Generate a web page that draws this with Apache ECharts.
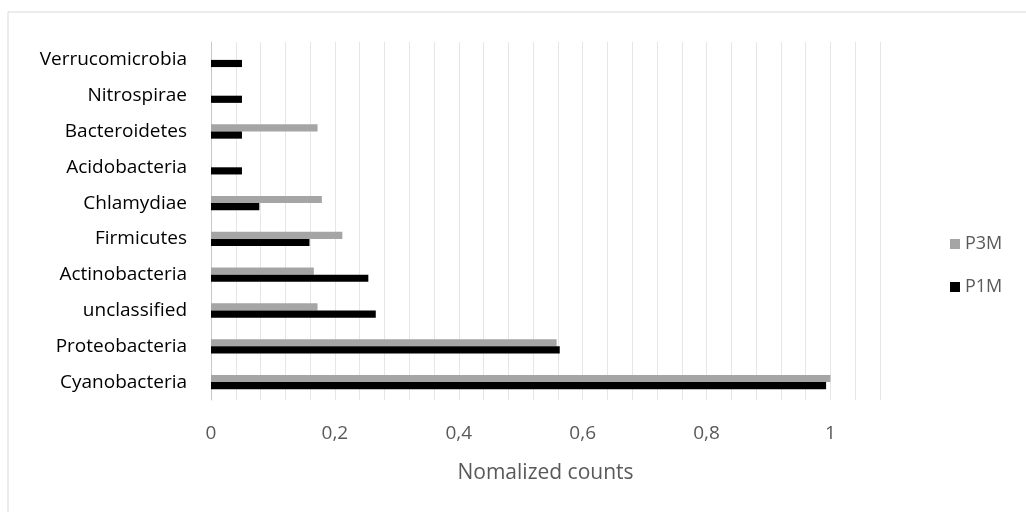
<!DOCTYPE html>
<html>
<head>
<meta charset="utf-8">
<script src="https://cdn.jsdelivr.net/npm/echarts@6/dist/echarts.min.js"></script>
<style>
  html, body { margin: 0; padding: 0; background: #fff; }
  #chart { width: 1026px; height: 512px; }
</style>
</head>
<body>
<div id="chart"></div>
<script>
// Phyla, listed bottom to top along the category axis
const categories = ['Cyanobacteria', 'Proteobacteria', 'unclassified', 'Actinobacteria', 'Firmicutes',
  'Chlamydiae', 'Acidobacteria', 'Bacteroidetes', 'Nitrospirae', 'Verrucomicrobia'];
const seriesNames = ['P3M', 'P1M'];
const p3m = [1.0, 0.558, 0.172, 0.166, 0.212, 0.179, 0, 0.172, 0, 0];
const p1m = [0.993, 0.563, 0.266, 0.254, 0.159, 0.078, 0.05, 0.05, 0.05, 0.05];
const axisMax = 1.08;
const gridStep = 0.04;
const labelStep = 5; // one label every fifth grid line (0,2)

const FONT = 'Open Sans';
const chart = echarts.init(document.getElementById('chart'), null, { renderer: 'canvas' });

chart.setOption({
  backgroundColor: '#ffffff',
  animation: false,
  graphic: [{
    type: 'rect',
    shape: { x: 8, y: 12, width: 1030, height: 520 },
    style: { fill: 'none', stroke: '#d9d9d9', lineWidth: 1 },
    silent: true
  }],
  grid: { left: 211, right: 146, top: 42, bottom: 112, containLabel: false },
  legend: {
    orient: 'vertical',
    left: 945,
    top: 230,
    itemGap: 25,
    icon: 'rect',
    itemWidth: 10,
    itemHeight: 10,
    data: seriesNames,
    textStyle: { fontFamily: FONT, fontSize: 18, color: '#595959' }
  },
  xAxis: {
    type: 'value',
    min: 0,
    max: axisMax,
    interval: gridStep,
    name: 'Nomalized counts',
    nameLocation: 'middle',
    nameGap: 63,
    nameTextStyle: { fontFamily: FONT, fontSize: 21, color: '#595959' },
    axisLine: { show: false },
    axisTick: { show: false },
    splitLine: { show: true, lineStyle: { color: '#e6e6e6', width: 1 } },
    axisLabel: {
      margin: 24,
      fontFamily: FONT,
      fontSize: 19,
      color: '#595959',
      showMaxLabel: false,
      formatter: function (v) {
        const k = Math.round(v / gridStep);
        if (k % labelStep !== 0) return '';
        const r = Math.round(v * 10) / 10;
        return (Number.isInteger(r) ? String(r) : r.toFixed(1)).replace('.', ',');
      }
    }
  },
  yAxis: {
    type: 'category',
    data: categories,
    axisLine: { show: true, lineStyle: { color: '#c8c8c8', width: 1 } },
    axisTick: { show: false },
    axisLabel: { margin: 24, fontFamily: FONT, fontSize: 19, color: '#000000' }
  },
  series: [
    {
      name: seriesNames[0],
      type: 'bar',
      data: p3m,
      itemStyle: { color: '#a5a5a5' },
      barGap: '0%',
      barCategoryGap: '60%'
    },
    {
      name: seriesNames[1],
      type: 'bar',
      data: p1m,
      itemStyle: { color: '#000000' },
      barGap: '0%',
      barCategoryGap: '60%'
    }
  ]
});
</script>
</body>
</html>
